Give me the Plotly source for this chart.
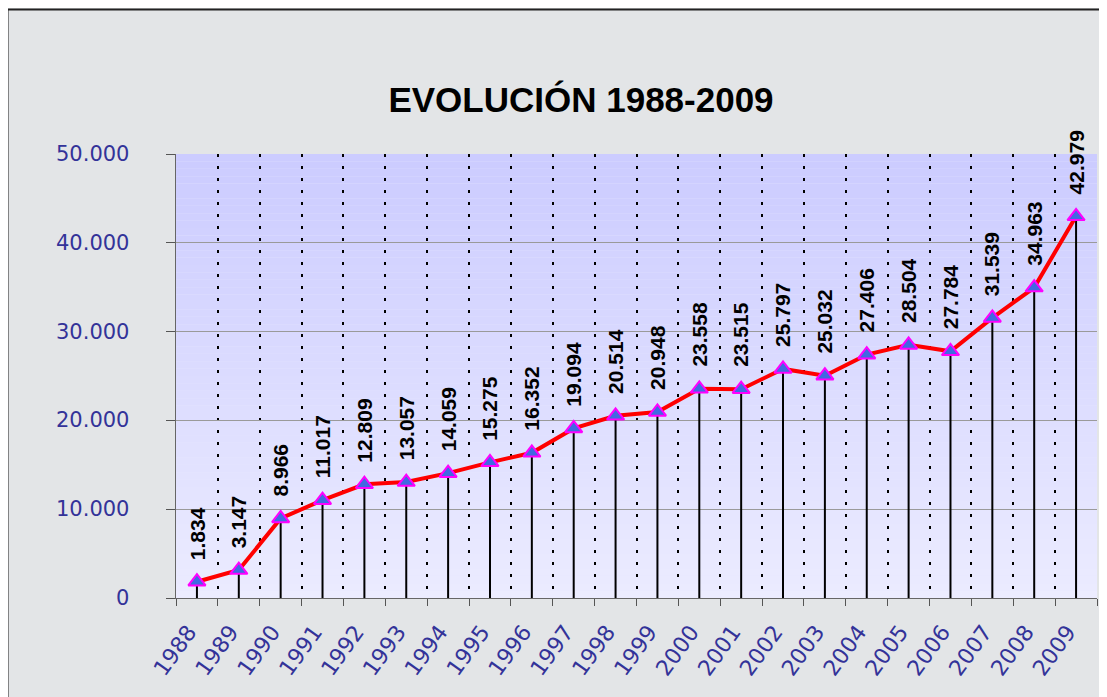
import plotly.graph_objects as go

years = [str(y) for y in range(1988, 2010)]
values = [1834, 3147, 8966, 11017, 12809, 13057, 14059, 15275, 16352, 19094,
          20514, 20948, 23558, 23515, 25797, 25032, 27406, 28504, 27784, 31539,
          34963, 42979]
value_labels = [f"{v:,}".replace(",", ".") for v in values]
y_ticks = [0, 10000, 20000, 30000, 40000, 50000]
y_tick_labels = [f"{v:,}".replace(",", ".") for v in y_ticks]

# page body has an 8px margin; compensate so the plot lands where the reference has it
OFF = 8
W, H = 1099, 689
L, T = 176 - OFF, 154 - OFF
R = W - (1097 - OFF)
B = H - (598 - OFF)
pw, ph = W - L - R, H - T - B

NB = "\u00a0"

fig = go.Figure()
fig.add_trace(go.Scatter(
    x=years, y=values, mode="lines+markers",
    line=dict(color="#ff0000", width=4),
    marker=dict(symbol="triangle-up", size=15, color="#4169e1",
                line=dict(color="#ff00ff", width=2)),
    error_y=dict(type="data", symmetric=False, array=[0] * len(values),
                 arrayminus=values, color="black", thickness=2, width=0),
    cliponaxis=False, showlegend=False, hoverinfo="x+y",
))

# gradient plot background as bands
n = 60
shapes = []
for i in range(n):
    t = i / (n - 1)
    r = int(236 - (236 - 204) * t)
    shapes.append(dict(type="rect", xref="paper", yref="paper", x0=0, x1=1,
                       y0=i / n, y1=(i + 1) / n, layer="below",
                       line=dict(width=0), fillcolor=f"rgb({r},{r},255)"))
# outer border
shapes.append(dict(type="rect", xref="paper", yref="paper",
                   x0=(7.5 - OFF - L) / pw, x1=(W + 5 - L) / pw,
                   y0=(T + ph - (H + 5)) / ph, y1=(T + ph - (9.5 - OFF)) / ph,
                   line=dict(color="#222222", width=2), layer="above"))

annotations = []
for i, (v, lab) in enumerate(zip(values, value_labels)):
    annotations.append(dict(x=i, y=v, xref="x", yref="y", text=f"<b>{lab}</b>",
                            showarrow=False, textangle=-90,
                            yanchor="bottom", xanchor="center", yshift=20,
                            font=dict(family="Liberation Sans, Arial", size=21,
                                      color="black")))
# y-axis value labels, placed on the y scale, set well back from the axis
for v, lab in zip(y_ticks, y_tick_labels):
    annotations.append(dict(x=(131 - 176) / pw, y=v, xref="paper", yref="y",
                            text=lab, showarrow=False, xanchor="right",
                            yanchor="middle",
                            font=dict(family="DejaVu Sans", size=21, color="#333399")))

fig.update_layout(
    width=W, height=H,
    margin=dict(l=L, r=R, t=T, b=B),
    paper_bgcolor="#e3e5e7",
    plot_bgcolor="#e6e6ff",
    title=dict(text="<b>EVOLUCIÓN 1988-2009</b>", x=(581 - OFF) / W, xanchor="center",
               y=1 - (100 - OFF) / H, yanchor="middle",
               font=dict(family="Liberation Sans, Arial", size=35, color="black")),
    shapes=shapes,
    annotations=annotations,
    xaxis=dict(type="category", tickson="boundaries", showgrid=True,
               gridcolor="black", griddash="3px,9px", gridwidth=2,
               ticks="outside", ticklen=7, tickcolor="#555555",
               showline=True, linecolor="#666666", linewidth=1,
               tickvals=years, ticktext=[y + NB * 2 for y in years],
               tickangle=-54,
               tickfont=dict(family="DejaVu Sans", size=22, color="#333399"),
               range=[-0.5, 21.5], fixedrange=True),
    yaxis=dict(range=[0, 50000], tickvals=y_ticks, showticklabels=False,
               showgrid=True, gridcolor="#9a9a9a", gridwidth=1,
               ticks="outside", ticklen=9, tickcolor="#555555",
               showline=True, linecolor="#666666", linewidth=1,
               zeroline=False, fixedrange=True),
)

fig.write_html("out.html")
